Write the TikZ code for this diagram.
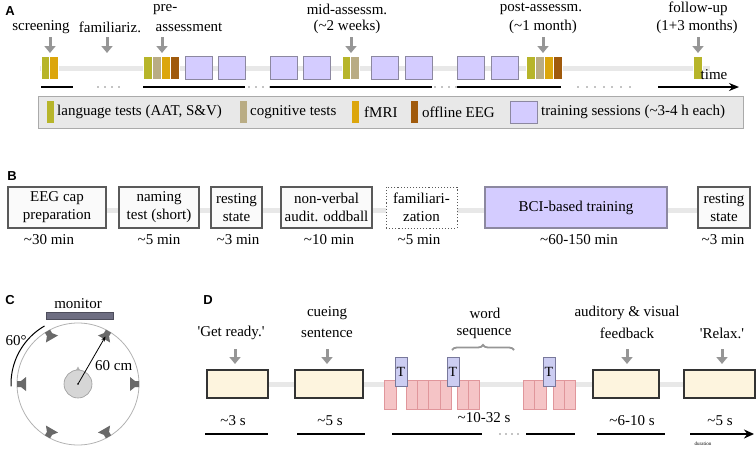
\documentclass[tikz,border=0pt]{standalone}
\usepackage{fontspec}
\setmainfont{Liberation Serif}
\newfontfamily\lsans{Liberation Sans}
\usetikzlibrary{arrows.meta,decorations.pathreplacing}
\definecolor{langc}{RGB}{183,181,42}
\definecolor{cogc}{RGB}{185,172,132}
\definecolor{fmric}{RGB}{220,166,12}
\definecolor{eegc}{RGB}{160,90,12}
\definecolor{purpc}{RGB}{212,204,255}
\definecolor{purpd}{RGB}{140,136,160}
\definecolor{linegray}{RGB}{232,232,232}
\definecolor{leggray}{RGB}{232,232,232}
\definecolor{legbord}{RGB}{170,170,170}
\definecolor{arrgray}{RGB}{150,150,150}
\definecolor{boxd}{RGB}{90,90,90}
\definecolor{boxf}{RGB}{250,250,250}
\definecolor{creamc}{RGB}{253,244,222}
\definecolor{pinkc}{RGB}{245,196,198}
\definecolor{pinkd}{RGB}{224,150,155}
\definecolor{tfill}{RGB}{204,205,242}
\definecolor{tdraw}{RGB}{120,120,155}
\definecolor{monc}{RGB}{110,110,130}
\definecolor{spkc}{RGB}{105,105,105}
\newcommand\myfs{\fontsize{15}{18}\selectfont}
\tikzset{
  txt/.style={font=\myfs, inner sep=0pt},
  plabel/.style={font=\lsans\bfseries\fontsize{13}{15}\selectfont, inner sep=0pt},
  garrow/.style={draw=arrgray, line width=3pt, -{Triangle[width=11pt,length=7pt]}},
  bar/.style={draw=white, line width=0.4pt},
  sess/.style={fill=purpc, draw=purpd, line width=0.8pt},
  track/.style={draw=linegray, line width=5pt},
  blk/.style={draw=black, line width=2pt},
  bbox/.style={draw=boxd, fill=boxf, line width=1.1pt, minimum height=41pt, align=center, font=\myfs, inner sep=0pt},
  dbox/.style={draw=black!80, fill=creamc, line width=1.3pt},
  pinkbox/.style={fill=pinkc, draw=pinkd, line width=0.6pt},
  tbox/.style={fill=tfill, draw=tdraw, line width=0.8pt, minimum width=12pt, minimum height=29pt, inner sep=0pt, font=\fontsize{14}{16}\selectfont},
  spk/.style={fill=spkc},
}
\begin{document}
\begin{tikzpicture}[x=1pt,y=-1pt]
\useasboundingbox (0,0) rectangle (756,448);
% ================= Panel A =================
\node[plabel] (la) at (10,11) {A};
\draw[track] (40,68) -- (710,68);
% labels
\node[txt] (scr) at (41,27) {screening};
\node[txt] (fam) at (110,27) {familiariz.};
\node[txt,anchor=west] (pre1) at (153,10) {pre-};
\node[txt] (pre2) at (189,27) {assessment};
\node[txt] (mid1) at (347,9) {mid-assessm.};
\node[txt] (mid2) at (347,27) {(\textasciitilde2 weeks)};
\node[txt] (post1) at (541,9) {post-assessm.};
\node[txt] (post2) at (543,27) {(\textasciitilde1 month)};
\node[txt] (fol1) at (698,9) {follow-up};
\node[txt] (fol2) at (697,27) {(1+3 months)};
% arrows
\foreach \x in {50,107,162,351,543,698} \draw[garrow] (\x,37) -- (\x,53);
% bars
\filldraw[bar,fill=langc] (41,56) rectangle (49.5,79);
\filldraw[bar,fill=fmric] (49.5,56) rectangle (58,79);
\filldraw[bar,fill=langc] (143,56) rectangle (152,79);
\filldraw[bar,fill=cogc] (152,56) rectangle (161,79);
\filldraw[bar,fill=fmric] (161,56) rectangle (170,79);
\filldraw[bar,fill=eegc] (170,56) rectangle (179,79);
\filldraw[bar,fill=langc] (342,56) rectangle (350.5,79);
\filldraw[bar,fill=cogc] (350.5,56) rectangle (359,79);
\filldraw[bar,fill=langc] (526,56) rectangle (535,79);
\filldraw[bar,fill=cogc] (535,56) rectangle (544,79);
\filldraw[bar,fill=fmric] (544,56) rectangle (553,79);
\filldraw[bar,fill=eegc] (553,56) rectangle (562,79);
\filldraw[bar,fill=langc] (693,56) rectangle (702,79);
% sessions
\foreach \x in {185,218,270,303,371,405,457,491}
  \filldraw[sess] (\x,56) rectangle (\x+27,79);
% black lines
\draw[blk] (41,87) -- (73,87);
\draw[blk] (143,87) -- (245,87);
\draw[blk] (270,87) -- (432,87);
\draw[blk] (457,87) -- (561,87);
\draw[draw=black, line width=1.6pt, -{Stealth[length=10pt,width=8pt]}] (658,87) -- (739,87);
\foreach \x in {98,105,112,119} \fill (\x,87) circle[radius=0.7pt];
\foreach \x in {249,256,263,270} \fill (\x,87) circle[radius=0.7pt];
\foreach \x in {435,442,449,456} \fill (\x,87) circle[radius=0.7pt];
\foreach \x in {578,587,595,604,612,621,630} \fill (\x,87) circle[radius=0.7pt];
\node[txt] (time) at (714,75) {time};
% legend
\filldraw[fill=leggray, draw=legbord, line width=1pt] (38,96) rectangle (743,128);
\fill[langc] (47,101) rectangle (54,123);
\node[txt,anchor=west] (lg1) at (57,112) {language tests (AAT, S\&V)};
\fill[cogc] (240,101) rectangle (247,123);
\node[txt,anchor=west] (lg2) at (250,112) {cognitive tests};
\fill[fmric] (352,101) rectangle (359,123);
\node[txt,anchor=west] (lg3) at (364,112) {fMRI};
\fill[eegc] (411,101) rectangle (418,123);
\node[txt,anchor=west] (lg4) at (422,112) {offline EEG};
\filldraw[sess] (510,101) rectangle (537,123);
\node[txt,anchor=west] (lg5) at (541,112) {training sessions (\textasciitilde3-4 h each)};
% ================= Panel B =================
\node[plabel] (lb) at (12,176) {B};
\draw[track] (106,210) -- (698,210);
\node[bbox, minimum width=98pt] (b1) at (57,207.5) {EEG cap\\preparation};
\node[bbox, minimum width=80pt] (b2) at (159,207.5) {naming\\test (short)};
\node[bbox, minimum width=51pt] (b3) at (236.5,207.5) {resting\\state};
\node[bbox, minimum width=91pt] (b4) at (326.5,207.5) {non-verbal\\audit. oddball};
\node[bbox, minimum width=71pt, fill=white, dotted, line width=0.9pt] (b5) at (421.5,207.5) {familiari-\\zation};
\node[bbox, minimum width=182pt, fill=purpc, draw=purpd] (b6) at (576,207.5) {BCI-based training};
\node[bbox, minimum width=52pt] (b7) at (724,207.5) {resting\\state};
\node[txt] (d1) at (49,240) {\textasciitilde30 min};
\node[txt] (d2) at (159,240) {\textasciitilde5 min};
\node[txt] (d3) at (238,240) {\textasciitilde3 min};
\node[txt] (d4) at (329,240) {\textasciitilde10 min};
\node[txt] (d5) at (419,240) {\textasciitilde5 min};
\node[txt] (d6) at (579,240) {\textasciitilde60-150 min};
\node[txt] (d7) at (723,240) {\textasciitilde3 min};
% ================= Panel C =================
\node[plabel] (lc) at (10,300) {C};
\node[txt] (mon) at (78,304) {monitor};
\filldraw[fill=monc, draw=monc!70!black, line width=0.6pt] (46,312) rectangle (113,319);
\draw[draw=black!30, line width=0.8pt] (78,384) circle[radius=61pt];
\foreach \a in {0,60,120,180,240,300} {
  \begin{scope}[shift={(78,384)}, rotate=\a]
    \fill[spk] (61,-3) -- (57,-3) -- (52,-7) -- (52,7) -- (57,3) -- (61,3) -- cycle;
  \end{scope}
}
\fill[fill=black!30] (75.5,371) -- (78,366.5) -- (80.5,371) -- cycle;
\filldraw[fill=black!16, draw=black!40, line width=0.6pt] (78,384) circle[radius=14pt];
\fill (78,384) circle[radius=0.8pt];
\draw[line width=0.8pt, -{Stealth[length=5pt,width=4pt]}] (78,384) -- ({78+55*cos(60)},{384-55*sin(60)});
\node[txt, anchor=west] (cm) at (95,366) {60 cm};
\draw[line width=1pt] plot[domain=120:182, samples=30] ({78+67*cos(\x)},{384-67*sin(\x)});
\node[txt] (deg) at (16,341) {60°};
% ================= Panel D =================
\node[plabel] (ld) at (208,300) {D};
\draw[track] (207,384) -- (755,384);
\node[txt] (g1) at (231,333) {\textquotesingle Get ready.\textquotesingle};
\node[txt] (c1) at (327,313) {cueing};
\node[txt] (c2) at (327,333) {sentence};
\node[txt] (w1) at (485,313) {word};
\node[txt] (w2) at (484,333) {sequence};
\node[txt] (f1) at (627,313) {auditory \& visual};
\node[txt] (f2) at (627,333) {feedback};
\node[txt] (r1) at (722,333) {\textquotesingle Relax.\textquotesingle};
\foreach \x in {235,327,627,722} \draw[garrow] (\x,349) -- (\x,364);
\filldraw[dbox] (207,370) rectangle (268,398);
\filldraw[dbox] (295,370) rectangle (363,398);
\filldraw[dbox] (593,370) rectangle (659,398);
\filldraw[dbox] (684,370) rectangle (755,398);
% pink word boxes
\filldraw[pinkbox] (384,380) rectangle (396,409);
\foreach \i in {0,1,2,3} \filldraw[pinkbox] (406.5+11.1*\i,380) rectangle (417.6+11.1*\i,409);
\foreach \i in {0,1} \filldraw[pinkbox] (457+11.2*\i,380) rectangle (468.2+11.2*\i,409);
\foreach \i in {0,1} \filldraw[pinkbox] (523+11.4*\i,380) rectangle (534.4+11.4*\i,409);
\foreach \i in {0,1} \filldraw[pinkbox] (553+11.3*\i,380) rectangle (564.3+11.3*\i,409);
\node[tbox] (t1) at (401,371.5) {T};
\node[tbox] (t2) at (453,371.5) {T};
\node[tbox] (t3) at (549,371.5) {T};
\draw[draw=arrgray, line width=1.8pt, decorate, decoration={brace, amplitude=5pt}] (452,350) -- (514,350);
\node[txt] (s1) at (233,421) {\textasciitilde3 s};
\node[txt] (s2) at (330,421) {\textasciitilde5 s};
\node[txt] (s3) at (484,418) {\textasciitilde10-32 s};
\node[txt] (s4) at (632,421) {\textasciitilde6-10 s};
\node[txt] (s5) at (720,421) {\textasciitilde5 s};
\draw[blk] (205,434) -- (268,434);
\draw[blk] (297,434) -- (365,434);
\draw[blk] (392,434) -- (482,434);
\foreach \x in {500,506,512,518} \fill (\x,434) circle[radius=0.7pt];
\draw[blk] (526,434) -- (575,434);
\draw[blk] (597,434) -- (665,434);
\draw[draw=black, line width=1.8pt, -{Stealth[length=10pt,width=9pt]}] (690,434) -- (754,434);
\node[font=\fontsize{5}{6}\selectfont, inner sep=0pt] (dur) at (703,444) {duration};
\end{tikzpicture}
\end{document}
